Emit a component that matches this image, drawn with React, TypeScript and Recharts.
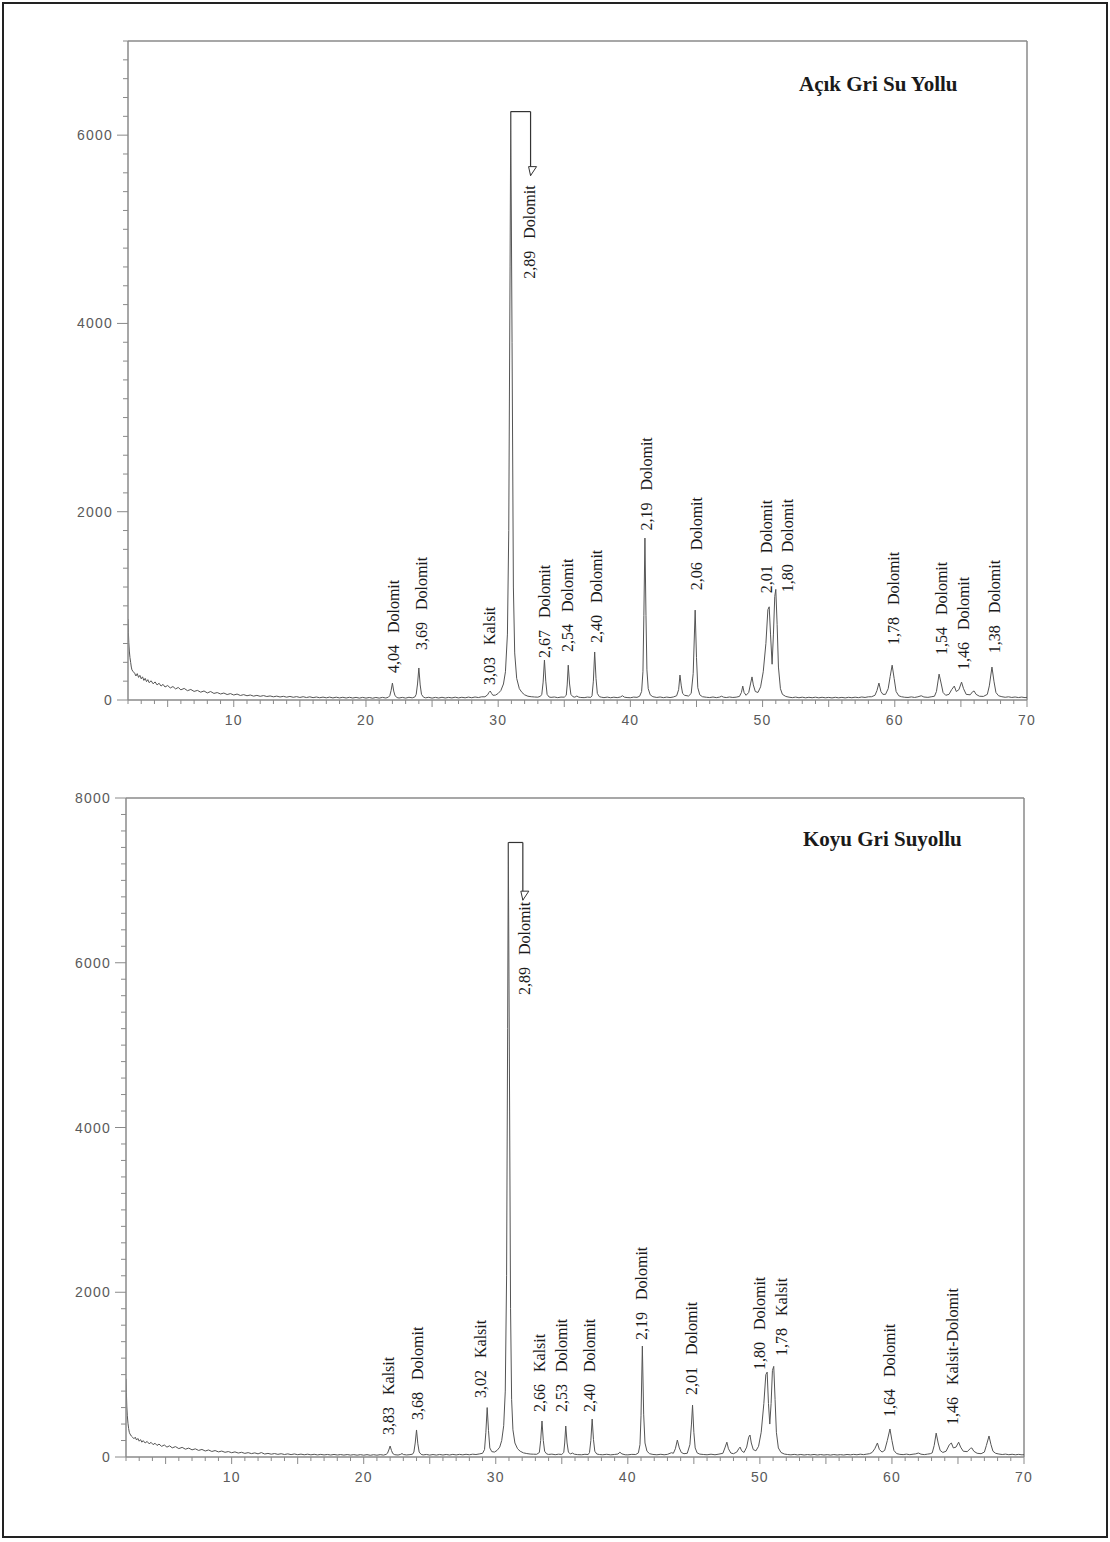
import React from 'react';
import { LineChart, Line, XAxis, YAxis, ReferenceLine, ReferenceDot } from 'recharts';

type Pt = [number, number];

// ---- Açık Gri Su Yollu : 2θ vs counts ----
const topScan: Pt[] = [
  [2.0, 860], [2.03, 720], [2.06, 610], [2.1, 520], [2.15, 450], [2.2, 400], [2.25, 350], [2.3, 320], [2.4, 300], [2.5, 285],
  [2.6, 255], [2.7, 280], [2.8, 240], [2.9, 262], [3.0, 225], [3.1, 246], [3.2, 208], [3.3, 230], [3.4, 195], [3.5, 216],
  [3.6, 184], [3.75, 204], [3.9, 172], [4.05, 192], [4.2, 160], [4.35, 178], [4.5, 148], [4.65, 166], [4.8, 138], [5.0, 154],
  [5.2, 128], [5.4, 143], [5.6, 118], [5.8, 133], [6.0, 108], [6.25, 123], [6.5, 99], [6.75, 112], [7.0, 91], [7.25, 102],
  [7.5, 83], [7.75, 96], [8.0, 75], [8.25, 90], [8.5, 70], [8.75, 79], [9.0, 64], [9.25, 74], [9.5, 58], [9.75, 68],
  [10.0, 53], [10.25, 63], [10.5, 48], [10.75, 57], [11.0, 45], [11.25, 53], [11.5, 41], [11.75, 49], [12.0, 39], [12.25, 47],
  [12.5, 37], [12.75, 43], [13.0, 34], [13.25, 41], [13.5, 32], [13.75, 39], [14.0, 30], [14.25, 38], [14.5, 29], [14.75, 36],
  [15.0, 27], [15.25, 35], [15.5, 26], [15.75, 34], [16.0, 25], [16.25, 32], [16.5, 24], [16.75, 31], [17.0, 23], [17.25, 31],
  [17.5, 22], [17.75, 30], [18.0, 22], [18.25, 29], [18.5, 21], [18.75, 29], [19.0, 21], [19.25, 28], [19.5, 20], [19.75, 28],
  [20.0, 20], [20.25, 27], [20.5, 19], [20.75, 27], [21.0, 20], [21.25, 28], [21.5, 21], [21.7, 30],
  [21.8, 45], [21.9, 100], [22.0, 180], [22.1, 95], [22.2, 45], [22.35, 26], [22.5, 21], [22.75, 28], [23.0, 20], [23.25, 29],
  [23.5, 23], [23.7, 32], [23.8, 60], [23.9, 170], [24.0, 340], [24.1, 160], [24.2, 60], [24.35, 30], [24.5, 23], [24.75, 29],
  [25.0, 20], [25.25, 28], [25.5, 21], [25.75, 29], [26.0, 21], [26.25, 28], [26.5, 22], [26.75, 30], [27.0, 22], [27.25, 29],
  [27.5, 23], [27.75, 31], [28.0, 24], [28.25, 32], [28.5, 26], [28.75, 34], [29.0, 34], [29.2, 55], [29.3, 80], [29.4, 95],
  [29.5, 70], [29.6, 50], [29.8, 52], [30.0, 70], [30.2, 100], [30.4, 170], [30.55, 300], [30.7, 700], [30.8, 1800], [30.9, 4600],
  [30.95, 6250], [31.05, 3800], [31.15, 1200], [31.25, 500], [31.4, 230], [31.6, 120], [31.8, 80], [32.0, 55], [32.25, 40], [32.5, 35],
  [32.75, 32], [33.0, 30], [33.2, 40], [33.3, 60], [33.4, 190], [33.5, 424], [33.6, 200], [33.7, 60], [33.85, 32], [34.0, 28],
  [34.25, 32], [34.5, 25], [34.75, 31], [35.0, 30], [35.15, 50], [35.22, 160], [35.3, 370], [35.4, 170], [35.5, 60], [35.65, 35],
  [35.8, 30], [35.95, 42], [36.1, 30], [36.25, 27], [36.5, 25], [36.75, 31], [37.0, 28], [37.1, 45], [37.2, 200], [37.3, 510],
  [37.4, 230], [37.5, 70], [37.65, 36], [37.8, 30], [38.0, 25], [38.25, 31], [38.5, 24], [38.75, 30], [39.0, 25], [39.25, 32],
  [39.4, 45], [39.55, 30], [39.75, 26], [40.0, 24], [40.25, 31], [40.5, 28], [40.7, 40], [40.85, 90], [40.95, 300], [41.02, 900],
  [41.1, 1720], [41.18, 900], [41.25, 320], [41.35, 120], [41.5, 55], [41.7, 35], [42.0, 27], [42.25, 32], [42.5, 25], [42.75, 31],
  [43.0, 26], [43.25, 32], [43.5, 45], [43.65, 110], [43.75, 265], [43.85, 150], [43.95, 70], [44.1, 50], [44.4, 42], [44.6, 70],
  [44.75, 280], [44.9, 955], [45.0, 450], [45.1, 130], [45.25, 55], [45.45, 35], [45.75, 29], [46.0, 26], [46.25, 32], [46.5, 25],
  [46.75, 31], [46.9, 40], [47.05, 30], [47.25, 26], [47.5, 32], [47.75, 27], [48.0, 30], [48.25, 38], [48.4, 80], [48.5, 148],
  [48.6, 80], [48.75, 50], [48.95, 80], [49.1, 180], [49.2, 245], [49.3, 160], [49.45, 90], [49.65, 80], [49.85, 140], [50.05, 300],
  [50.25, 600], [50.4, 960], [50.5, 990], [50.6, 700], [50.72, 380], [50.82, 700], [50.92, 1100], [51.0, 1175], [51.1, 800], [51.2, 350],
  [51.35, 120], [51.5, 60], [51.75, 38], [52.0, 30], [52.25, 25], [52.5, 31], [52.75, 24], [53.0, 30], [53.25, 23], [53.5, 29],
  [53.75, 24], [54.0, 30], [54.25, 23], [54.5, 29], [54.75, 23], [55.0, 28], [55.25, 22], [55.5, 29], [55.75, 23], [56.0, 28],
  [56.25, 22], [56.5, 29], [56.75, 24], [57.0, 30], [57.25, 25], [57.5, 32], [57.75, 27], [58.0, 34], [58.25, 35], [58.5, 50],
  [58.65, 100], [58.8, 180], [58.95, 90], [59.1, 60], [59.3, 60], [59.5, 120], [59.65, 250], [59.8, 370], [59.95, 230], [60.1, 90],
  [60.3, 45], [60.5, 35], [60.75, 29], [61.0, 27], [61.25, 33], [61.5, 27], [61.75, 34], [62.0, 45], [62.2, 32], [62.5, 28],
  [62.75, 34], [63.0, 40], [63.15, 90], [63.35, 275], [63.5, 180], [63.65, 80], [63.85, 50], [64.1, 60], [64.3, 110], [64.5, 148],
  [64.65, 90], [64.85, 110], [65.05, 190], [65.2, 120], [65.4, 60], [65.7, 55], [65.9, 90], [66.0, 95], [66.15, 60], [66.4, 40],
  [66.7, 38], [67.0, 60], [67.15, 150], [67.35, 350], [67.5, 200], [67.65, 80], [67.85, 45], [68.1, 35], [68.35, 29], [68.6, 34],
  [68.85, 27], [69.1, 32], [69.35, 26], [69.6, 31], [69.85, 25], [70.0, 28],
];

// ---- Koyu Gri Suyollu ----
const bottomScan: Pt[] = [
  [2.0, 950], [2.03, 780], [2.06, 620], [2.1, 500], [2.15, 410], [2.2, 345], [2.25, 300], [2.3, 280], [2.4, 255], [2.5, 240],
  [2.6, 222], [2.7, 240], [2.8, 206], [2.9, 225], [3.0, 192], [3.1, 211], [3.2, 180], [3.3, 199], [3.45, 170], [3.6, 189],
  [3.75, 160], [3.9, 178], [4.05, 150], [4.2, 167], [4.35, 140], [4.5, 157], [4.7, 129], [4.9, 146], [5.1, 120], [5.3, 136],
  [5.5, 111], [5.75, 126], [6.0, 102], [6.25, 117], [6.5, 95], [6.75, 108], [7.0, 87], [7.25, 99], [7.5, 80], [7.75, 92],
  [8.0, 73], [8.25, 85], [8.5, 67], [8.75, 78], [9.0, 62], [9.25, 72], [9.5, 57], [9.75, 66], [10.0, 52], [10.25, 62],
  [10.5, 48], [10.75, 57], [11.0, 44], [11.25, 53], [11.5, 41], [11.75, 50], [12.0, 38], [12.25, 54], [12.5, 36], [12.75, 44],
  [13.0, 34], [13.25, 42], [13.5, 32], [13.75, 40], [14.0, 30], [14.25, 38], [14.5, 29], [14.75, 37], [15.0, 28], [15.25, 35],
  [15.5, 27], [15.75, 34], [16.0, 26], [16.25, 33], [16.5, 25], [16.75, 32], [17.0, 25], [17.25, 31], [17.5, 24], [17.75, 31],
  [18.0, 24], [18.25, 30], [18.5, 23], [18.75, 30], [19.0, 23], [19.25, 29], [19.5, 22], [19.75, 29], [20.0, 22], [20.25, 29],
  [20.5, 21], [20.75, 28], [21.0, 22], [21.25, 29], [21.5, 23], [21.7, 32], [21.8, 45], [21.9, 85], [22.0, 133], [22.1, 80],
  [22.2, 42], [22.35, 28], [22.6, 24], [22.8, 32], [22.9, 42], [23.0, 30], [23.25, 25], [23.5, 29], [23.7, 34], [23.8, 60],
  [23.9, 170], [24.0, 328], [24.1, 160], [24.2, 60], [24.35, 32], [24.5, 25], [24.75, 31], [25.0, 23], [25.25, 30], [25.5, 23],
  [25.75, 31], [26.0, 24], [26.25, 31], [26.5, 24], [26.75, 32], [27.0, 25], [27.25, 32], [27.5, 26], [27.75, 33], [28.0, 27],
  [28.25, 34], [28.5, 30], [28.75, 37], [29.0, 45], [29.15, 90], [29.25, 300], [29.35, 600], [29.45, 320], [29.55, 110], [29.7, 65],
  [29.9, 60], [30.1, 80], [30.3, 120], [30.45, 200], [30.6, 380], [30.72, 800], [30.82, 2200], [30.9, 5200], [30.95, 7460], [31.05, 4200],
  [31.12, 1800], [31.2, 700], [31.3, 330], [31.45, 170], [31.65, 100], [31.85, 70], [32.1, 50], [32.35, 42], [32.6, 36], [32.85, 34],
  [33.1, 33], [33.3, 55], [33.4, 200], [33.5, 437], [33.6, 200], [33.7, 70], [33.85, 38], [34.0, 31], [34.25, 35], [34.5, 28],
  [34.75, 34], [35.0, 31], [35.15, 55], [35.22, 170], [35.3, 376], [35.4, 170], [35.5, 60], [35.65, 36], [35.8, 48], [35.95, 34],
  [36.2, 29], [36.5, 27], [36.75, 33], [37.0, 30], [37.1, 55], [37.2, 200], [37.3, 461], [37.4, 210], [37.5, 70], [37.65, 36],
  [37.85, 30], [38.1, 27], [38.4, 33], [38.7, 26], [39.0, 31], [39.25, 36], [39.4, 58], [39.55, 38], [39.8, 27], [40.0, 26],
  [40.3, 32], [40.6, 30], [40.8, 50], [40.92, 150], [41.0, 500], [41.1, 1347], [41.2, 520], [41.3, 170], [41.45, 70], [41.65, 40],
  [41.9, 31], [42.2, 27], [42.5, 33], [42.75, 27], [43.0, 32], [43.2, 45], [43.3, 52], [43.45, 45], [43.6, 100], [43.75, 206],
  [43.9, 110], [44.05, 55], [44.25, 40], [44.5, 45], [44.7, 150], [44.82, 400], [44.9, 630], [45.0, 300], [45.1, 110], [45.25, 50],
  [45.45, 35], [45.75, 30], [46.0, 27], [46.3, 34], [46.6, 27], [46.9, 35], [47.2, 45], [47.35, 110], [47.5, 180], [47.62, 100],
  [47.8, 48], [48.0, 40], [48.25, 60], [48.4, 100], [48.5, 120], [48.62, 75], [48.8, 55], [49.0, 120], [49.15, 240], [49.25, 267],
  [49.35, 170], [49.5, 90], [49.7, 75], [49.9, 130], [50.1, 300], [50.3, 650], [50.45, 1000], [50.55, 1030], [50.65, 650], [50.75, 400],
  [50.85, 650], [50.95, 1050], [51.05, 1100], [51.15, 700], [51.25, 300], [51.4, 110], [51.6, 55], [51.85, 36], [52.1, 30], [52.35, 26],
  [52.6, 32], [52.85, 25], [53.1, 31], [53.35, 24], [53.6, 30], [53.85, 25], [54.1, 31], [54.35, 24], [54.6, 30], [54.85, 24],
  [55.1, 29], [55.35, 23], [55.6, 30], [55.85, 24], [56.1, 29], [56.35, 24], [56.6, 31], [56.85, 26], [57.1, 32], [57.35, 27],
  [57.6, 34], [57.85, 29], [58.1, 35], [58.3, 40], [58.5, 55], [58.7, 100], [58.9, 170], [59.05, 90], [59.25, 60], [59.45, 80],
  [59.65, 200], [59.85, 340], [60.0, 200], [60.15, 80], [60.35, 42], [60.6, 32], [60.85, 29], [61.1, 35], [61.35, 28], [61.6, 34],
  [61.8, 38], [62.0, 48], [62.2, 34], [62.45, 29], [62.7, 35], [62.9, 40], [63.05, 50], [63.2, 140], [63.35, 290], [63.5, 170],
  [63.65, 80], [63.85, 55], [64.1, 70], [64.35, 150], [64.5, 170], [64.65, 110], [64.85, 120], [65.05, 180], [65.2, 120], [65.4, 70],
  [65.7, 65], [65.95, 105], [66.05, 110], [66.2, 70], [66.45, 45], [66.75, 40], [67.0, 60], [67.15, 140], [67.35, 255], [67.5, 150],
  [67.65, 70], [67.85, 45], [68.1, 36], [68.35, 30], [68.6, 35], [68.85, 28], [69.1, 33], [69.35, 27], [69.6, 32], [69.85, 26],
  [70.0, 29],
];

// peak annotations: [2θ where text stands, intensity where text starts, d-spacing, mineral]
const topLabels: [number, number, string, string][] = [
  [22.1, 286, '4,04', 'Dolomit'],
  [24.2, 530, '3,69', 'Dolomit'],
  [29.3, 160, '3,03', 'Kalsit'],
  [32.4, 4475, '2,89', 'Dolomit'],
  [33.5, 445, '2,67', 'Dolomit'],
  [35.2, 510, '2,54', 'Dolomit'],
  [37.4, 605, '2,40', 'Dolomit'],
  [41.2, 1800, '2,19', 'Dolomit'],
  [45.0, 1165, '2,06', 'Dolomit'],
  [50.3, 1135, '2,01', 'Dolomit'],
  [51.85, 1145, '1,80', 'Dolomit'],
  [59.9, 583, '1,78', 'Dolomit'],
  [63.5, 477, '1,54', 'Dolomit'],
  [65.2, 318, '1,46', 'Dolomit'],
  [67.5, 498, '1,38', 'Dolomit'],
];

const bottomLabels: [number, number, string, string][] = [
  [21.85, 267, '3,83', 'Kalsit'],
  [24.1, 450, '3,68', 'Dolomit'],
  [28.8, 716, '3,02', 'Kalsit'],
  [32.15, 5607, '2,89', 'Dolomit'],
  [33.3, 546, '2,66', 'Kalsit'],
  [35.0, 546, '2,53', 'Dolomit'],
  [37.1, 546, '2,40', 'Dolomit'],
  [41.0, 1420, '2,19', 'Dolomit'],
  [44.8, 752, '2,01', 'Dolomit'],
  [50.0, 1056, '1,80', 'Dolomit'],
  [51.6, 1226, '1,78', 'Kalsit'],
  [59.8, 485, '1,64', 'Dolomit'],
  [64.6, 388, '1,46', 'Kalsit-Dolomit'],
];

// truncated main-peak bracket: [peak 2θ, arrow 2θ, top intensity, arrow tip intensity]
const topBracket: [number, number, number, number] = [30.95, 32.45, 6250, 5570];
const bottomBracket: [number, number, number, number] = [30.95, 32.05, 7460, 6760];

const xTicks: number[] = [];
for (let v = 2; v <= 70; v++) xTicks.push(v);
const ticksTo = (max: number) => {
  const t: number[] = [];
  for (let v = 0; v <= max; v += 200) t.push(v);
  return t;
};

const AXIS = '#8a8a8a';
const TICK_TEXT = '#5a5a5a';
const TICK_FONT = 'Liberation Sans';

const XTick = (props: any) => {
  const { x, y, payload } = props;
  const v = payload.value;
  const len = v % 5 === 0 ? 7 : 4;
  return (
    <g>
      <line x1={x} y1={y} x2={x} y2={y + len} stroke={AXIS} strokeWidth={1} />
      {v % 10 === 0 && (
        <text x={x} y={y + 25} textAnchor="middle" fontFamily={TICK_FONT} fontSize={14} letterSpacing={1.2} fill={TICK_TEXT}>
          {v}
        </text>
      )}
    </g>
  );
};

const YTick = (props: any) => {
  const { x, y, payload } = props;
  const v = payload.value;
  const major = v % 2000 === 0;
  return (
    <g>
      <line x1={x - (major ? 11 : 5)} y1={y} x2={x} y2={y} stroke={AXIS} strokeWidth={1} />
      {major && (
        <text x={x - 15} y={y} dy="0.36em" textAnchor="end" fontFamily={TICK_FONT} fontSize={14} letterSpacing={1.2} fill={TICK_TEXT}>
          {v}
        </text>
      )}
    </g>
  );
};

const peakLabel = (d: string, m: string) => (p: any) => (
  <text
    x={p.cx}
    y={p.cy}
    dy="0.35em"
    transform={`rotate(-90 ${p.cx} ${p.cy})`}
    textAnchor="start"
    fontFamily="Liberation Serif"
    fontSize={16}
    fill="#1a1a1a"
  >
    <tspan>{d}</tspan>
    <tspan dx={12}>{m}</tspan>
  </text>
);

const arrowHead = (p: any) => (
  <path
    d={`M ${p.cx - 2} ${p.cy - 9} L ${p.cx + 6} ${p.cy - 9} L ${p.cx} ${p.cy} Z`}
    fill="#fff"
    stroke="#333"
    strokeWidth={1}
  />
);

type ChartProps = {
  scan: Pt[];
  labels: [number, number, string, string][];
  bracket: [number, number, number, number];
  yMax: number;
  width: number;
  height: number;
  margin: { top: number; right: number; bottom: number; left: number };
};

const Y_W = 60;
const X_H = 30;

const ScanChart = ({ scan, labels, bracket, yMax, width, height, margin }: ChartProps) => {
  const rows = scan.map(([x, y]) => ({ x, y }));
  const [px, ax, top, tip] = bracket;
  const m = { ...margin, left: margin.left - Y_W, bottom: margin.bottom - X_H };
  return (
    <LineChart width={width} height={height} data={rows} margin={m}>
      <XAxis
        dataKey="x"
        type="number"
        domain={[2, 70]}
        ticks={xTicks}
        interval={0}
        height={X_H}
        tickSize={0}
        tickMargin={0}
        tickLine={false}
        axisLine={{ stroke: AXIS, strokeWidth: 1.5 }}
        tick={<XTick />}
        allowDataOverflow
      />
      <YAxis
        type="number"
        domain={[0, yMax]}
        ticks={ticksTo(yMax)}
        interval={0}
        width={Y_W}
        tickSize={0}
        tickMargin={0}
        tickLine={false}
        axisLine={{ stroke: AXIS, strokeWidth: 1.5 }}
        tick={<YTick />}
        allowDataOverflow
      />
      <ReferenceLine y={yMax} stroke={AXIS} strokeWidth={1.5} />
      <ReferenceLine x={70} stroke={AXIS} strokeWidth={1.5} />
      <Line
        dataKey="y"
        type="linear"
        dot={false}
        stroke="#555"
        strokeWidth={1}
        isAnimationActive={false}
      />
      <ReferenceLine segment={[{ x: px, y: top }, { x: ax, y: top }]} stroke="#333" strokeWidth={1.2} />
      <ReferenceLine segment={[{ x: ax, y: top }, { x: ax, y: tip }]} stroke="#333" strokeWidth={1.2} />
      <ReferenceDot x={ax} y={tip} r={0} shape={arrowHead} />
      {labels.map(([lx, ly, d, mm]) => (
        <ReferenceDot key={d + lx} x={lx} y={ly} r={0} shape={peakLabel(d, mm)} />
      ))}
    </LineChart>
  );
};

const titleStyle: React.CSSProperties = {
  position: 'absolute',
  fontFamily: 'Liberation Serif',
  fontWeight: 'bold',
  fontSize: 21,
  lineHeight: '21px',
  color: '#1a1a1a',
  whiteSpace: 'nowrap',
};

export default function App() {
  return (
    <div style={{ position: 'absolute', left: 0, top: 0, width: 1110, height: 1542, background: '#fff', overflow: 'hidden' }}>
      <div style={{ position: 'absolute', left: 2, top: 2, width: 1102, height: 1532, border: '2px solid #222' }} />
      <div style={{ position: 'absolute', left: 0, top: 0 }}>
        <ScanChart
          scan={topScan}
          labels={topLabels}
          bracket={topBracket}
          yMax={7000}
          width={1110}
          height={760}
          margin={{ top: 41, right: 83, bottom: 60, left: 128 }}
        />
      </div>
      <div style={{ position: 'absolute', left: 0, top: 760 }}>
        <ScanChart
          scan={bottomScan}
          labels={bottomLabels}
          bracket={bottomBracket}
          yMax={8000}
          width={1110}
          height={780}
          margin={{ top: 38, right: 86, bottom: 83, left: 126 }}
        />
      </div>
      <div style={{ ...titleStyle, left: 799, top: 74 }}>Açık Gri Su Yollu</div>
      <div style={{ ...titleStyle, left: 803, top: 829 }}>Koyu Gri Suyollu</div>
    </div>
  );
}
